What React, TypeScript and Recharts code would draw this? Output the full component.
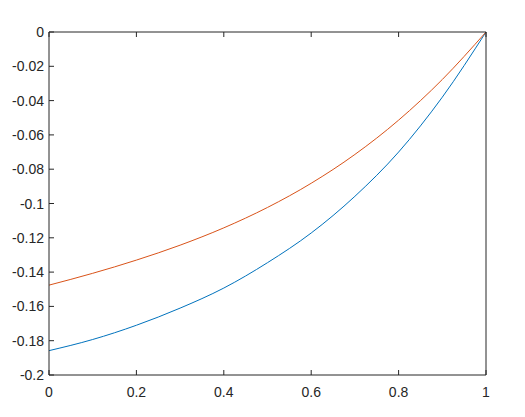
import React from 'react';
import { LineChart, Line, XAxis, YAxis } from 'recharts';

// values
const xValues = [0, 0.1, 0.2, 0.3, 0.4, 0.5, 0.6, 0.7, 0.8, 0.9, 1];
const blueValues = [-0.1858, -0.1793, -0.171, -0.161, -0.1493, -0.1345, -0.1172, -0.0958, -0.07, -0.038, 0];
const redValues = [-0.1476, -0.1407, -0.133, -0.1243, -0.1142, -0.1023, -0.0882, -0.0714, -0.0514, -0.0277, 0];

const xTicks = [0, 0.2, 0.4, 0.6, 0.8, 1];
const yTicks = [0, -0.02, -0.04, -0.06, -0.08, -0.1, -0.12, -0.14, -0.16, -0.18, -0.2];

const axisColor = '#262626';
const fontFamily = 'Liberation Sans, Arial, sans-serif';
const TICK = 5;

// MATLAB style: tick marks point into the plot box
const LeftTick = (props: any) => {
  const { x, y, payload } = props;
  return (
    <g>
      <line x1={x} x2={x + TICK} y1={y} y2={y} stroke={axisColor} />
      <text x={x - 5} y={y} textAnchor="end" dominantBaseline="central" fontSize={14} fill={axisColor} fontFamily={fontFamily}>
        {payload.value}
      </text>
    </g>
  );
};

const BottomTick = (props: any) => {
  const { x, y, payload } = props;
  return (
    <g>
      <line x1={x} x2={x} y1={y} y2={y - TICK} stroke={axisColor} />
      <text x={x} y={y + 22} textAnchor="middle" fontSize={14} fill={axisColor} fontFamily={fontFamily}>
        {payload.value}
      </text>
    </g>
  );
};

const TopTick = (props: any) => {
  const { x, y } = props;
  return <line x1={x} x2={x} y1={y} y2={y + TICK} stroke={axisColor} />;
};

const RightTick = (props: any) => {
  const { x, y } = props;
  return <line x1={x} x2={x - TICK} y1={y} y2={y} stroke={axisColor} />;
};

const App: React.FC = () => {
  const data = xValues.map((x, i) => ({ x, blue: blueValues[i], red: redValues[i] }));

  return (
    <div style={{ position: 'absolute', left: 0, top: 0, width: 525, height: 417, background: '#fff' }}>
      <LineChart width={525} height={417} data={data} margin={{ top: 31, right: 38, left: 0, bottom: 12 }}>
        <XAxis
          xAxisId="bottom"
          dataKey="x"
          type="number"
          domain={[0, 1]}
          ticks={xTicks}
          height={30}
          tickSize={0}
          tickMargin={0}
          tickLine={false}
          tick={BottomTick}
          axisLine={{ stroke: axisColor }}
        />
        <XAxis
          xAxisId="top"
          orientation="top"
          dataKey="x"
          type="number"
          domain={[0, 1]}
          ticks={xTicks}
          height={1}
          tickSize={0}
          tickMargin={0}
          tickLine={false}
          tick={TopTick}
          axisLine={{ stroke: axisColor }}
        />
        <YAxis
          yAxisId="left"
          type="number"
          domain={[-0.2, 0]}
          ticks={yTicks}
          width={49}
          tickSize={0}
          tickMargin={0}
          tickLine={false}
          tick={LeftTick}
          axisLine={{ stroke: axisColor }}
        />
        <YAxis
          yAxisId="right"
          orientation="right"
          type="number"
          domain={[-0.2, 0]}
          ticks={yTicks}
          width={1}
          tickSize={0}
          tickMargin={0}
          tickLine={false}
          tick={RightTick}
          axisLine={{ stroke: axisColor }}
        />
        <Line
          xAxisId="bottom"
          yAxisId="left"
          dataKey="blue"
          type="monotone"
          stroke="#0072BD"
          strokeWidth={1}
          dot={false}
          isAnimationActive={false}
        />
        <Line
          xAxisId="bottom"
          yAxisId="left"
          dataKey="red"
          type="monotone"
          stroke="#D95319"
          strokeWidth={1}
          dot={false}
          isAnimationActive={false}
        />
      </LineChart>
    </div>
  );
};

export default App;
